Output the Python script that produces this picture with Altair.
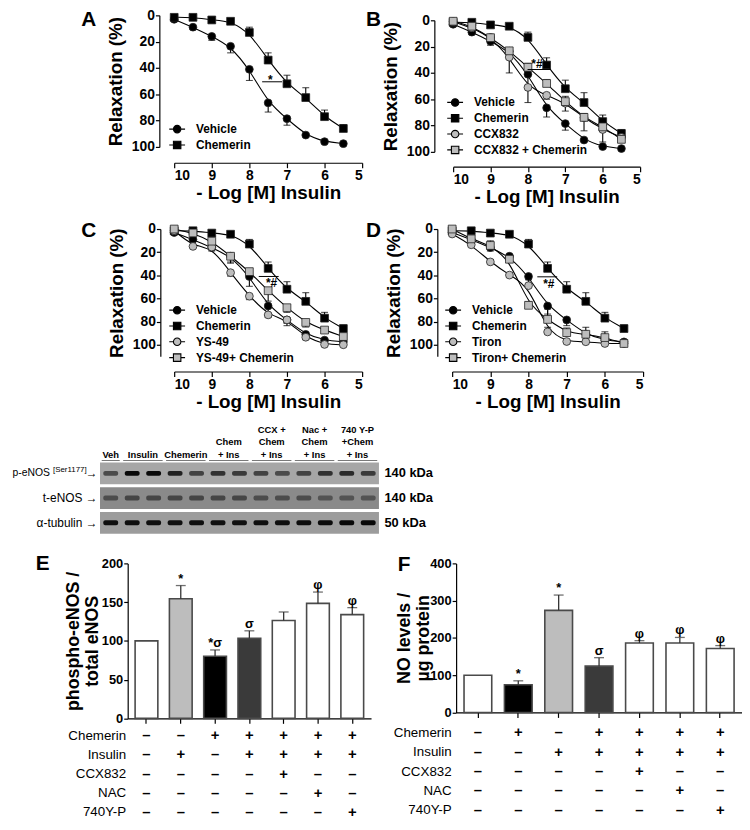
import altair as alt
import pandas as pd

# ---------------- data ----------------
log_dose = [10, 9.5, 9, 8.5, 8, 7.5, 7, 6.5, 6, 5.5]

vehicle_mean = [3, 9, 16, 23.5, 41, 66.5, 78.5, 91, 96, 97.5]
vehicle_sem = [0, 1.5, 3, 5, 8.5, 7, 5, 1, 1, 1]
chemerin_mean = [1.5, 1.5, 3.5, 4.5, 13, 34, 52, 62.5, 77, 86]
chemerin_sem = [0, 0, 1, 1.5, 4, 5.5, 6.5, 7.5, 5, 3]
ccx_mean = [1, 5.7, 13, 28, 51, 57, 63, 74, 83, 89]
ccx_sem = [0, 1, 2, 12, 11.5, 3, 6, 10, 9.5, 3]
ccx_chem_mean = [0.7, 4.5, 13.2, 23.2, 35.7, 48, 61.8, 73.8, 81, 90.5]
ccx_chem_sem = [0, 1, 2, 2, 3, 3, 4, 3, 3, 3]
ys_mean = [1.4, 15, 15.6, 37.7, 58, 74.2, 78.5, 93.5, 99.7, 100]
ys_sem = [0, 1, 2, 3, 3, 2, 3, 2, 1, 1]
ys_chem_mean = [0, 3.4, 10.5, 23.5, 36.8, 53.3, 68, 80.7, 87.3, 92.9]
ys_chem_sem = [0, 1, 2, 6, 5, 9, 4, 4, 2, 2]
tiron_mean = [4.3, 13.6, 28.4, 39.8, 48.9, 88.9, 97.2, 97.4, 98.9, 98.9]
tiron_sem = [0, 1, 2, 2, 5, 4, 1, 1, 1, 1]
tiron_chem_mean = [0, 8.5, 14.2, 26.1, 65.9, 78.1, 89.5, 90.9, 93.8, 98.9]
tiron_chem_sem = [0, 2, 4, 3, 3, 9, 4, 6, 5, 1]

# significance marks: (x from, x to, y of line, text x, text y, text)
sig_A = [7.66, 7.13, 50.5, 7.44, 52.5, "*"]
sig_B = [8.01, 7.39, 37.4, 7.76, 36.5, "*#"]
sig_C = [7.75, 7.22, 41.0, 7.41, 50.5, "*#"]
sig_D = [7.77, 7.25, 41.3, 7.47, 51.0, "*#"]

# western blot
blot_rows = ["p-eNOS", "t-eNOS", "\u03b1-tubulin"]
phospho_site = "[Ser1177]"
blot_kda = ["140 kDa", "140 kDa", "50 kDa"]
lanes = list(range(1, 14))
band_p_enos = [0.55, 0.95, 0.95, 0.8, 0.6, 0.7, 0.65, 0.6, 0.55, 0.6, 0.7, 0.75, 0.65]
band_t_enos = [0.45, 0.5, 0.5, 0.5, 0.5, 0.5, 0.5, 0.45, 0.45, 0.45, 0.4, 0.4, 0.4]
band_tubulin = [0.9, 0.9, 0.9, 0.9, 0.9, 0.9, 0.9, 0.9, 0.9, 0.92, 0.92, 0.95, 0.95]
lane_groups = ["Veh", "Insulin", "Chemerin", "Chem\n+ Ins", "CCX +\nChem\n+ Ins",
               "Nac +\nChem\n+ Ins", "740 Y-P\n+Chem\n+ Ins"]
group_sizes = [1, 2, 2, 2, 2, 2, 2]

# bar charts
conditions = ["1", "2", "3", "4", "5", "6", "7"]
e_value = [100, 154.4, 80.2, 103.2, 126.2, 148.4, 133.9]
e_sem = [0, 17, 8.1, 9.8, 11.1, 14.6, 9]
e_note = ["", "*", "*\u03c3", "\u03c3", "", "\u03c6", "\u03c6"]
e_shade = ["white", "light", "black", "dark", "white", "white", "white"]
f_value = [100, 74.4, 274, 124.3, 186.4, 186.4, 171.6]
f_sem = [0, 10.5, 41, 22.7, 6.2, 14.9, 7.8]
f_note = ["", "*", "*", "\u03c3", "\u03c6", "\u03c6", "\u03c6"]
f_shade = ["white", "black", "light", "dark", "white", "white", "white"]

treat_rows = ["Chemerin", "Insulin", "CCX832", "NAC", "740Y-P"]
e_table = ["--+++++", "-+-++++", "----+--", "-----+-", "------+"]
f_table = ["-+-++++", "--+++++", "----+--", "-----+-", "------+"]

# ---------------- layout / style ----------------
W, H = 742, 814
FONT = "Liberation Sans"
NARROW = "Liberation Sans Narrow, Liberation Sans"
GRAY = "#bdbdbd"
ARROW = "\u2192"
CIRCLE_LEG = "M-1,0L-0.47,0M0.47,0L1,0M-0.47,0A0.47,0.47,0,1,0,0.47,0A0.47,0.47,0,1,0,-0.47,0Z"
SQUARE_LEG = "M-1,0L-0.47,0M0.47,0L1,0M-0.47,-0.47L0.47,-0.47L0.47,0.47L-0.47,0.47Z"


def curve_panel(names, means, sems, dirs, xr, yr, ydom, yax, xax, leg_xy, sig):
    rows = []
    for name, m, s, d in zip(names, means, sems, dirs):
        for dose, mv, sv in zip(log_dose, m, s):
            rows.append({"dose": dose, "series": name, "mean": mv, "sem": sv,
                         "end": mv + d * sv})
    df = pd.DataFrame(rows)
    n = len(names)
    fills = ["black", "black", GRAY, GRAY][:n]
    shapes = ["circle", "square", "circle", "square"][:n]
    leg_shapes = [CIRCLE_LEG, SQUARE_LEG, CIRCLE_LEG, SQUARE_LEG][:n]
    xs = alt.Scale(domain=[10, 5], range=xr, nice=False, zero=False)
    ys = alt.Scale(domain=ydom, range=yr, nice=False, zero=False)
    x_axis = alt.Axis(orient="bottom", offset=xax - H, values=[10, 9, 8, 7, 6, 5],
                      format="d", title="- Log [M] Insulin", labelFontSize=14,
                      titleFontSize=19, tickSize=5, labelPadding=1, titlePadding=1)
    y_axis = alt.Axis(orient="left", offset=-yax, values=[0, 20, 40, 60, 80, 100],
                      format="d", title="Relaxation (%)", labelFontSize=14,
                      titleFontSize=19, tickSize=4, labelPadding=1,
                      minExtent=30, maxExtent=30, titlePadding=4)
    base = alt.Chart(df)
    X = lambda f="dose:Q", ax=None: alt.X(f, scale=xs, axis=ax)
    Y = lambda f, ax=None: alt.Y(f, scale=ys, axis=ax)
    line = base.mark_line(interpolate="basis", color="black", strokeWidth=1.1).encode(
        x=X("dose:Q", x_axis), y=Y("mean:Q", y_axis), detail="series:N")
    errd = base.transform_filter("datum.sem > 0")
    err = errd.mark_rule(color="black", strokeWidth=1.1).encode(
        x=X(), y=Y("mean:Q"), y2="end:Q")
    cap = errd.mark_tick(orient="horizontal", size=7, thickness=1.1, color="black").encode(
        x=X(), y=Y("end:Q"))
    pts = base.mark_point(filled=True, size=62, stroke="#222", strokeWidth=0.8,
                          opacity=1).encode(
        x=X(), y=Y("mean:Q"),
        fill=alt.Fill("series:N", scale=alt.Scale(domain=names, range=fills), legend=None),
        shape=alt.Shape("series:N", scale=alt.Scale(domain=names, range=shapes), legend=None))
    legend = alt.Legend(orient="none", legendX=leg_xy[0], legendY=leg_xy[1], title=None,
                        symbolSize=256, symbolStrokeColor="black", symbolStrokeWidth=1.1,
                        symbolOpacity=1, labelFont=FONT, labelFontSize=12,
                        labelFontWeight="bold", labelColor="black", labelOffset=10,
                        rowPadding=1, padding=0)
    leg = base.transform_calculate(entry="datum.series").mark_point(
        filled=True, opacity=0).encode(
        x=X(), y=Y("mean:Q"),
        fill=alt.Fill("entry:N", scale=alt.Scale(domain=names, range=fills), legend=legend),
        stroke=alt.Stroke("entry:N", scale=alt.Scale(domain=names, range=["black"] * n),
                          legend=legend),
        shape=alt.Shape("entry:N", scale=alt.Scale(domain=names, range=leg_shapes),
                        legend=legend))
    sdf = pd.DataFrame([dict(zip(["x1", "x2", "y", "tx", "ty", "label"], sig))])
    sline = alt.Chart(sdf).mark_rule(color="black", strokeWidth=1).encode(
        x=X("x1:Q"), x2="x2:Q", y=Y("y:Q"))
    stext = alt.Chart(sdf).mark_text(font=FONT, fontSize=12, fontWeight="bold",
                                     baseline="alphabetic").encode(
        x=X("tx:Q"), y=Y("ty:Q"), text="label:N")
    return alt.layer(line, err, cap, pts, leg, sline, stext).resolve_scale(
        fill="independent", shape="independent", stroke="independent"
    ).resolve_axis(x="independent", y="independent")


def letter(t, x, y):
    return alt.Chart(pd.DataFrame({"t": [t]})).mark_text(
        font=FONT, fontSize=21, fontWeight="bold", align="left", baseline="alphabetic"
    ).encode(x=alt.value(x), y=alt.value(y), text="t:N")


panel_A = curve_panel(["Vehicle", "Chemerin"], [vehicle_mean, chemerin_mean],
                      [vehicle_sem, chemerin_sem], [1, -1],
                      [168, 358], [3, 136], [0, 100], 153, 152, (162, 109), sig_A)
panel_B = curve_panel(["Vehicle", "Chemerin", "CCX832", "CCX832 + Chemerin"],
                      [vehicle_mean, chemerin_mean, ccx_mean, ccx_chem_mean],
                      [vehicle_sem, chemerin_sem, ccx_sem, ccx_chem_sem], [1, -1, 1, -1],
                      [450, 639], [8, 141], [0, 100], 431, 156, (443, 82), sig_B)
panel_C = curve_panel(["Vehicle", "Chemerin", "YS-49", "YS-49+ Chemerin"],
                      [vehicle_mean, chemerin_mean, ys_mean, ys_chem_mean],
                      [vehicle_sem, chemerin_sem, ys_sem, ys_chem_sem], [1, -1, 1, 1],
                      [168, 358], [219, 347.7], [0, 110], 154, 363, (162, 292), sig_C)
panel_D = curve_panel(["Vehicle", "Chemerin", "Tiron", "Tiron+ Chemerin"],
                      [vehicle_mean, chemerin_mean, tiron_mean, tiron_chem_mean],
                      [vehicle_sem, chemerin_sem, tiron_sem, tiron_chem_sem], [1, -1, -1, -1],
                      [449, 642], [219, 347.7], [0, 110], 434, 363, (441, 292), sig_D)

# ---------------- western blot ----------------
band_rows = []
for r, vals in zip(blot_rows, [band_p_enos, band_t_enos, band_tubulin]):
    for ln, v in zip(lanes, vals):
        band_rows.append({"row": r, "lane": ln, "intensity": v})
band_df = pd.DataFrame(band_rows)
bg_df = pd.DataFrame({"row": blot_rows, "x1": [lanes[0] - 0.5] * 3, "x2": [lanes[-1] + 0.5] * 3})
hdr, hdr_lines = [], []
start = 1
for g, n in zip(lane_groups, group_sizes):
    center = start + (n - 1) / 2
    hdr.append({"row": blot_rows[0], "start": start - 0.42, "end": start + n - 1 + 0.42})
    parts = g.split("\n")
    for i, p in enumerate(parts):
        hdr_lines.append({"row": blot_rows[0], "center": center, "text": p,
                          "level": len(parts) - 1 - i})
    start += n
hdr_df = pd.DataFrame(hdr)
hdr_lines_df = pd.DataFrame(hdr_lines)

bxs = alt.Scale(domain=[0.5, 13.5], range=[93, 375], nice=False, zero=False)
bys = alt.Scale(type="band", domain=blot_rows, range=[455, 527], paddingInner=0.12,
                paddingOuter=0)
first = blot_rows[0]
kda_expr = " : ".join(f"datum.value == '{r}' ? '{k}'" for r, k in zip(blot_rows, blot_kda)) + " : ''"


def row_axis(offset, expr, size, pad, loff=0):
    return alt.Axis(orient="left", offset=-offset, domain=False, ticks=False, tickSize=0,
                    title=None, labelPadding=pad, labelFont=FONT, labelFontWeight="normal",
                    labelFontSize=size, labelExpr=expr, labelOffset=loff)


blot_bg = alt.Chart(bg_df).mark_rect().encode(
    x=alt.X("x1:Q", scale=bxs, axis=None), x2="x2:Q",
    y=alt.Y("row:N", scale=bys, axis=row_axis(
        93, f"datum.value == '{first}' ? '{ARROW}' : datum.value + ' {ARROW}'", 12, 3)),
    fill=alt.Fill("row:N", scale=alt.Scale(domain=blot_rows,
                                           range=["#a6a6a6", "#8a8a8a", "#9c9c9c"]),
                  legend=None))
blot_site = alt.Chart(bg_df).mark_rect(opacity=0).encode(
    x=alt.X("x1:Q", scale=bxs, axis=None), x2="x2:Q",
    y=alt.Y("row:N", scale=bys, axis=row_axis(
        81, f"datum.value == '{first}' ? '{phospho_site}' : ''", 8, 2, -3)))
blot_pname = alt.Chart(bg_df).mark_rect(opacity=0).encode(
    x=alt.X("x1:Q", scale=bxs, axis=None), x2="x2:Q",
    y=alt.Y("row:N", scale=bys, axis=row_axis(
        44, f"datum.value == '{first}' ? datum.value : ''", 10.5, 2)))
blot_bands = alt.Chart(band_df).mark_tick(orient="horizontal", size=15, thickness=5,
                                          color="black", cornerRadius=2).encode(
    x=alt.X("lane:Q", scale=bxs, axis=None),
    y=alt.Y("row:N", scale=bys, axis=alt.Axis(orient="right", offset=375 - W, domain=False,
                                               ticks=False, tickSize=0, title=None,
                                               labelPadding=5, labelFontSize=13,
                                               labelFont=NARROW, labelFontWeight="bold",
                                               labelExpr=kda_expr)),
    opacity=alt.Opacity("intensity:Q", scale=alt.Scale(domain=[0, 1], range=[0, 1]),
                        legend=None))
hdr_layers = []
for lvl in range(3):
    hdr_layers.append(
        alt.Chart(hdr_lines_df).transform_filter(f"datum.level == {lvl}").mark_text(
            font=NARROW, fontSize=9.5, fontWeight="bold", baseline="alphabetic",
            dy=-5 - 12.5 * lvl).encode(
            x=alt.X("center:Q", scale=bxs, axis=None),
            y=alt.Y("row:N", scale=bys, axis=None, bandPosition=0), text="text:N"))
blot_ul = alt.Chart(hdr_df).mark_rule(color="#777", strokeWidth=1, yOffset=-2).encode(
    x=alt.X("start:Q", scale=bxs, axis=None), x2="end:Q",
    y=alt.Y("row:N", scale=bys, axis=None, bandPosition=0))
blot = alt.layer(blot_bg, blot_site, blot_pname, blot_bands, *hdr_layers,
                 blot_ul).resolve_axis(y="independent")


# ---------------- bar panels ----------------
def bar_panel(values, sems, notes, shades, xr, pin, pout, yr, ydom, yvals, yax, xax, title,
              tpad, extent):
    df = pd.DataFrame({"cond": conditions, "value": values, "sem": sems, "note": notes,
                       "shade": shades})
    df["top"] = df["value"] + df["sem"]
    xs = alt.Scale(type="band", domain=conditions, range=xr, paddingInner=pin,
                   paddingOuter=pout)
    ys = alt.Scale(domain=ydom, range=yr, nice=False, zero=False)
    base = alt.Chart(df)
    bars = base.mark_bar(stroke="#4a4a4a", strokeWidth=1.6).encode(
        x=alt.X("cond:N", scale=xs, axis=alt.Axis(orient="bottom", offset=xax - H,
                                                   labels=False, title=None, tickSize=5)),
        y=alt.Y("value:Q", scale=ys,
                axis=alt.Axis(orient="left", offset=-yax, values=yvals, format="d",
                              title=title, labelFontSize=13, titleFontSize=18,
                              tickSize=4, labelPadding=1, minExtent=extent,
                              maxExtent=extent, titlePadding=tpad, titleLineHeight=19)),
        fill=alt.Fill("shade:N", scale=alt.Scale(domain=["white", "light", "black", "dark"],
                                                 range=["#ffffff", GRAY, "#000000", "#3a3a3a"]),
                      legend=None))
    ed = base.transform_filter("datum.sem > 0")
    err = ed.mark_rule(color="#333", strokeWidth=1.3).encode(
        x=alt.X("cond:N", scale=xs, axis=None), y=alt.Y("value:Q", scale=ys, axis=None),
        y2="top:Q")
    cap = ed.mark_tick(orient="horizontal", size=10, thickness=1.3, color="#333").encode(
        x=alt.X("cond:N", scale=xs, axis=None), y=alt.Y("top:Q", scale=ys, axis=None))
    note = base.mark_text(font=FONT, fontSize=13, fontWeight="bold", baseline="alphabetic",
                          dy=-3).encode(
        x=alt.X("cond:N", scale=xs, axis=None), y=alt.Y("top:Q", scale=ys, axis=None),
        text="note:N")
    return alt.layer(bars, err, cap, note).resolve_axis(x="independent", y="independent"), xs


def table_panel(patterns, xs, yr, axis_x):
    rows = []
    for r, pat in zip(treat_rows, patterns):
        for c, ch in zip(conditions, pat):
            rows.append({"row": r, "cond": c, "sign": "+" if ch == "+" else "\u2013"})
    df = pd.DataFrame(rows)
    ys = alt.Scale(type="point", domain=treat_rows, range=yr, padding=0)
    return alt.Chart(df).mark_text(font=FONT, fontSize=15, fontWeight="bold",
                                   baseline="middle").encode(
        x=alt.X("cond:N", scale=xs, axis=None),
        y=alt.Y("row:N", scale=ys, axis=alt.Axis(orient="left", offset=-axis_x, domain=False,
                                                 ticks=False, tickSize=0, title=None,
                                                 labelPadding=3, labelFontSize=13.5,
                                                 labelFontWeight="normal")),
        text="sign:N")


panel_E, e_xs = bar_panel(e_value, e_sem, e_note, e_shade, [121, 367], 0.337, 0.216,
                          [713.7, 557], [0, 200], [0, 50, 100, 150, 200], 121, 713.7,
                          ["phospho-eNOS /", "total eNOS"], 3, 24)
panel_F, f_xs = bar_panel(f_value, f_sem, f_note, f_shade, [453, 742], 0.314, 0.196,
                          [707.7, 557], [0, 400], [0, 100, 200, 300, 400], 453, 707.7,
                          ["NO levels /", "\u00b5g protein"], 0, 24)
table_E = table_panel(e_table, e_xs, [731, 808], 122)
table_F = table_panel(f_table, f_xs, [728, 806], 451)

chart = alt.layer(
    panel_A, panel_B, panel_C, panel_D, blot, panel_E, table_E, panel_F, table_F,
    letter("A", 74, 14), letter("B", 362, 14), letter("C", 74, 227), letter("D", 362, 227),
    letter("E", 28, 564), letter("F", 394, 565),
).resolve_scale(
    x="independent", y="independent", fill="independent", shape="independent",
    opacity="independent", stroke="independent",
).properties(
    width=W, height=H, autosize=alt.AutoSizeParams(type="none"), padding=0
).configure_view(stroke=None).configure_axis(
    grid=False, domainColor="black", tickColor="black", labelColor="black",
    titleColor="black", labelFont=FONT, titleFont=FONT, labelFontWeight="bold",
    titleFontWeight="bold", domainWidth=1.2, tickWidth=1.2,
)

chart.save("out.html", embed_options={"renderer": "svg", "actions": False})
